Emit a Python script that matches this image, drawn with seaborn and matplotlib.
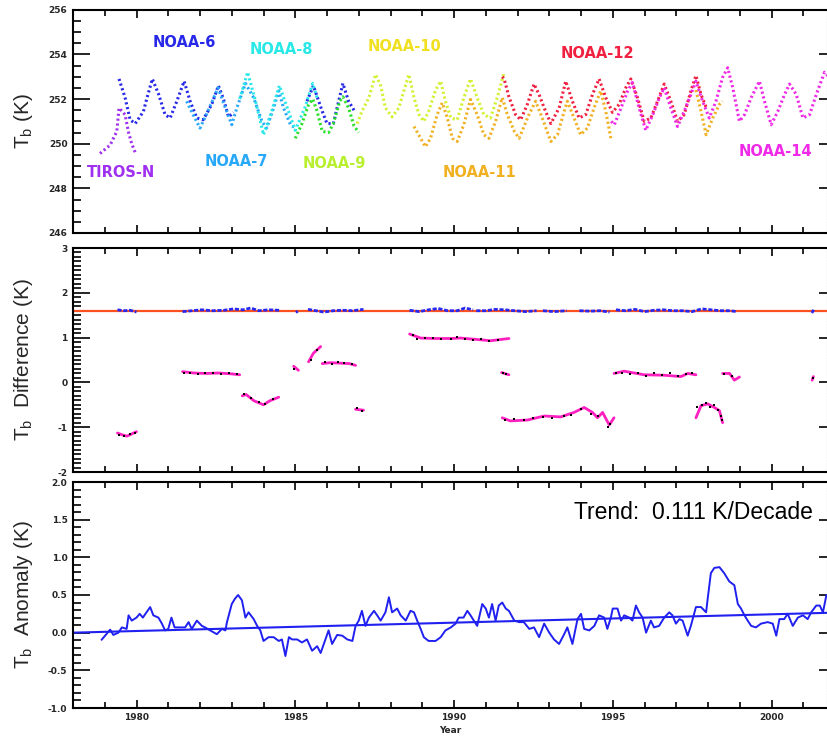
import numpy as np
import pandas as pd
import matplotlib
matplotlib.use("Agg")
import matplotlib.pyplot as plt
import seaborn as sns
from matplotlib.ticker import MultipleLocator

# ---------------- data: top panel (brightness temperature by satellite) ----------------
tiros_t = [1978.85, 1979.17, 1979.38, 1979.45, 1979.64, 1979.75, 1979.85, 1979.96]
tiros_v = [249.56, 249.94, 250.55, 251.6, 251.3, 250.5, 250.0, 249.6]

n6a_t = [1979.45, 1979.64, 1979.8, 1979.96, 1980.22, 1980.32, 1980.5, 1980.7, 1980.9, 1981.06,
         1981.27, 1981.5, 1981.69, 1981.9, 1982.1, 1982.37, 1982.58, 1982.74, 1982.9, 1983.06]
n6a_v = [252.9, 252.06, 251.07, 250.9, 251.45, 252.0, 252.9, 252.2, 251.3, 251.15,
         251.9, 252.8, 251.9, 251.15, 251.07, 251.76, 252.6, 252.0, 251.2, 251.4]
n6b_t = [1985.37, 1985.57, 1985.85, 1986.0, 1986.2, 1986.5, 1986.68, 1986.85]
n6b_v = [251.9, 252.6, 251.45, 250.9, 250.9, 252.7, 251.9, 251.5]

n7_t = [1981.58, 1981.73, 1982.0, 1982.2, 1982.57, 1982.8, 1983.0, 1983.16, 1983.43,
        1983.69, 1983.95, 1984.1, 1984.32, 1984.48, 1984.63, 1984.85, 1985.0]
n7_v = [251.9, 251.45, 250.7, 251.3, 252.5, 251.6, 250.85, 251.6, 252.7,
        252.06, 251.0, 250.7, 251.6, 252.36, 251.6, 250.85, 250.7]

n8_t = [1983.25, 1983.5, 1983.75, 1984.0, 1984.25, 1984.5, 1984.75, 1985.0, 1985.3, 1985.55, 1985.7]
n8_v = [252.0, 253.2, 251.9, 250.4, 251.4, 252.6, 251.6, 250.6, 251.6, 252.7, 252.0]

n9_t = [1985.0, 1985.2, 1985.42, 1985.55, 1985.69, 1985.85, 1986.05, 1986.2, 1986.4, 1986.5,
        1986.68, 1986.85, 1987.0]
n9_v = [250.24, 250.85, 251.76, 252.0, 251.45, 250.55, 250.5, 250.9, 251.9, 252.1,
        251.6, 250.8, 250.5]

n10_t = [1986.95, 1987.1, 1987.32, 1987.53, 1987.69, 1987.84, 1988.05, 1988.26, 1988.42, 1988.58,
         1988.74, 1988.9, 1989.05, 1989.2, 1989.42, 1989.58, 1989.73, 1989.9, 1990.1, 1990.31,
         1990.52, 1990.73, 1990.94, 1991.15, 1991.37, 1991.58]
n10_v = [250.9, 251.45, 252.06, 253.1, 252.6, 251.6, 251.2, 251.6, 252.36, 253.1,
         252.06, 251.3, 251.0, 251.45, 252.4, 252.8, 251.9, 251.15, 251.07, 252.06,
         252.9, 252.06, 251.3, 251.15, 252.1, 253.2]

n11a_t = [1988.74, 1988.95, 1989.1, 1989.26, 1989.47, 1989.63, 1989.79, 1989.95, 1990.1, 1990.31,
          1990.52, 1990.73, 1990.94, 1991.1, 1991.31, 1991.52, 1991.68, 1991.9, 1992.05, 1992.36,
          1992.57, 1992.78, 1993.05, 1993.26, 1993.47, 1993.57, 1993.78, 1993.99, 1994.2, 1994.41,
          1994.62, 1994.78, 1994.94]
n11a_v = [250.77, 250.24, 249.86, 250.24, 251.3, 251.83, 251.15, 250.24, 250.1, 250.85,
          251.98, 251.3, 250.4, 250.24, 251.0, 252.06, 251.3, 250.55, 250.24, 251.3,
          251.9, 251.15, 250.1, 250.4, 251.45, 251.9, 251.15, 250.4, 250.7, 251.6,
          252.36, 251.45, 250.24]
n11b_t = [1997.62, 1997.78, 1997.94, 1998.15, 1998.36, 1998.46]
n11b_v = [252.4, 251.45, 250.4, 251.15, 251.76, 251.9]

n12_t = [1991.52, 1991.58, 1991.73, 1991.94, 1992.1, 1992.31, 1992.52, 1992.68, 1992.84, 1993.05,
         1993.31, 1993.52, 1993.73, 1993.94, 1994.15, 1994.36, 1994.57, 1994.78, 1994.99, 1995.2,
         1995.41, 1995.57, 1995.78, 1995.99, 1996.2, 1996.41, 1996.62, 1996.83, 1997.04, 1997.25,
         1997.46, 1997.62, 1997.78, 1997.95]
n12_v = [253.0, 252.9, 252.1, 251.3, 251.07, 251.76, 252.67, 252.2, 251.6, 250.9,
         251.6, 252.8, 251.9, 251.15, 251.3, 252.2, 252.9, 252.06, 251.4, 251.76,
         252.5, 252.9, 252.06, 251.0, 251.15, 251.9, 252.67, 251.9, 251.0, 251.3,
         252.36, 253.05, 252.2, 251.6]

n14_t = [1994.95, 1995.05, 1995.26, 1995.47, 1995.62, 1995.83, 1996.04, 1996.26, 1996.47, 1996.62,
         1996.83, 1997.04, 1997.25, 1997.46, 1997.62, 1997.83, 1998.04, 1998.25, 1998.46, 1998.62,
         1998.78, 1998.99, 1999.15, 1999.36, 1999.62, 1999.78, 1999.99, 2000.2, 2000.41, 2000.57,
         2000.78, 2000.99, 2001.2, 2001.41, 2001.67, 2001.8]
n14_v = [251.0, 250.85, 251.6, 252.36, 252.74, 251.6, 250.6, 251.3, 252.06, 252.5,
         251.6, 250.77, 251.45, 252.2, 252.8, 251.9, 251.15, 251.9, 252.97, 253.4,
         252.5, 251.0, 251.3, 252.06, 252.8, 251.9, 250.85, 251.45, 252.2, 252.67,
         252.2, 251.15, 251.3, 252.2, 253.2, 253.0]

sat_names = ["TIROS-N", "NOAA-6", "NOAA-7", "NOAA-8", "NOAA-9", "NOAA-10", "NOAA-11", "NOAA-12", "NOAA-14"]
sat_line_colors = ["#a030f0", "#2828e8", "#28a8f8", "#28e8e8", "#28e028", "#d4f030", "#f0b020", "#f02040", "#f028e8"]
sat_label_colors = ["#a030f0", "#2828e8", "#28a8f8", "#28e8e8", "#b8f030", "#f0e020", "#f0b020", "#f02040", "#f028e8"]
sat_label_x = [1979.51, 1981.51, 1983.15, 1984.57, 1986.24, 1988.44, 1990.79, 1994.52, 2000.11]
sat_label_y = [248.73, 254.55, 249.18, 254.2, 249.13, 254.33, 248.73, 254.06, 249.63]

# ---------------- data: middle panel (difference) ----------------
diff_ref = 1.6
blue_segs_t = [[1979.4, 1979.6, 1979.8, 1980.0],
               [1981.45, 1981.75, 1982.05, 1982.4, 1982.75, 1983.05, 1983.35, 1983.6, 1983.85, 1984.15, 1984.5],
               [1985.02, 1985.08],
               [1985.4, 1985.65, 1985.9, 1986.2, 1986.5, 1986.8, 1987.15],
               [1988.6, 1988.9, 1989.2, 1989.5, 1989.8, 1990.1, 1990.35, 1990.6],
               [1990.7, 1991.0, 1991.3, 1991.6, 1991.9, 1992.25, 1992.6],
               [1992.8, 1993.15, 1993.55],
               [1993.95, 1994.3, 1994.6, 1994.9],
               [1995.1, 1995.4, 1995.7, 1996.0, 1996.3, 1996.6, 1996.9, 1997.2, 1997.5, 1997.8, 1998.1, 1998.4, 1998.7, 1998.9],
               [2001.27, 2001.33]]
blue_segs_v = [[1.62, 1.6, 1.61, 1.57],
               [1.58, 1.6, 1.62, 1.6, 1.61, 1.64, 1.62, 1.66, 1.6, 1.62, 1.61],
               [1.56, 1.59],
               [1.63, 1.6, 1.57, 1.6, 1.61, 1.6, 1.63],
               [1.61, 1.58, 1.62, 1.65, 1.6, 1.6, 1.66, 1.62],
               [1.6, 1.6, 1.63, 1.62, 1.6, 1.58, 1.6],
               [1.6, 1.58, 1.6],
               [1.6, 1.59, 1.6, 1.57],
               [1.62, 1.6, 1.63, 1.58, 1.61, 1.62, 1.6, 1.6, 1.58, 1.64, 1.62, 1.6, 1.6, 1.58],
               [1.55, 1.62]]

mag_segs_t = [[1979.4, 1979.55, 1979.7, 1979.85, 1980.0],
              [1981.45, 1981.8, 1982.2, 1982.6, 1983.0, 1983.25],
              [1983.33, 1983.45, 1983.7, 1984.0, 1984.2, 1984.48],
              [1984.95, 1985.1],
              [1985.42, 1985.57, 1985.8],
              [1985.85, 1986.1, 1986.4, 1986.7, 1986.9],
              [1986.9, 1987.15],
              [1988.6, 1988.95, 1989.4, 1989.9, 1990.2, 1990.7, 1991.15, 1991.73],
              [1991.5, 1991.73],
              [1991.52, 1991.78, 1992.31, 1992.84, 1993.36, 1993.78, 1994.1, 1994.36, 1994.52, 1994.68, 1994.89, 1995.04],
              [1995.04, 1995.36, 1995.99, 1996.62, 1997.15, 1997.36, 1997.62],
              [1997.62, 1997.78, 1997.99, 1998.2, 1998.36, 1998.46],
              [1998.46, 1998.68, 1998.83, 1998.99],
              [2001.28, 2001.32]]
mag_segs_v = [[-1.13, -1.17, -1.2, -1.15, -1.1],
              [0.24, 0.21, 0.2, 0.21, 0.19, 0.17],
              [-0.3, -0.27, -0.41, -0.5, -0.41, -0.33],
              [0.36, 0.27],
              [0.46, 0.65, 0.8],
              [0.42, 0.44, 0.43, 0.42, 0.38],
              [-0.6, -0.62],
              [1.08, 0.99, 0.98, 0.98, 0.99, 0.96, 0.93, 0.98],
              [0.22, 0.17],
              [-0.79, -0.86, -0.84, -0.75, -0.77, -0.67, -0.56, -0.67, -0.79, -0.67, -0.95, -0.79],
              [0.2, 0.25, 0.17, 0.16, 0.13, 0.2, 0.17],
              [-0.79, -0.52, -0.48, -0.56, -0.63, -0.9],
              [0.2, 0.2, 0.05, 0.12],
              [0.05, 0.13]]

black_t = [1979.45, 1979.62, 1979.78, 1979.95,
           1981.5, 1981.7, 1981.95, 1982.15, 1982.4, 1982.65, 1982.9, 1983.15,
           1983.4, 1983.6, 1983.85, 1984.05, 1984.3,
           1984.97,
           1985.5, 1985.7,
           1985.95, 1986.15, 1986.35, 1986.55, 1986.8,
           1986.95, 1987.1,
           1988.7, 1988.85, 1989.1, 1989.35, 1989.6, 1989.9, 1990.1, 1990.35, 1990.6, 1990.85, 1991.1, 1991.4,
           1991.55, 1991.65,
           1991.6, 1991.9, 1992.2, 1992.5, 1992.8, 1993.1, 1993.45, 1993.7, 1994.0, 1994.3, 1994.55, 1994.85, 1994.92,
           1995.1, 1995.3, 1995.55, 1995.8, 1996.05, 1996.3, 1996.55, 1996.8, 1997.05, 1997.3, 1997.5,
           1997.65, 1997.8, 1997.95, 1998.05, 1998.2, 1998.3, 1998.4, 1998.45,
           1998.5, 1998.75,
           2001.3]
black_v = [-1.17, -1.2, -1.16, -1.12,
           0.22, 0.2, 0.19, 0.21, 0.2, 0.19, 0.2, 0.18,
           -0.25, -0.35, -0.43, -0.48, -0.38,
           0.3,
           0.5, 0.72,
           0.45, 0.4, 0.46, 0.44, 0.4,
           -0.58, -0.64,
           1.05, 0.97, 0.99, 1.0, 0.96, 0.97, 1.01, 0.97, 0.95, 0.96, 0.93, 0.95,
           0.22, 0.18,
           -0.84, -0.82, -0.85, -0.8, -0.78, -0.8, -0.75, -0.72, -0.6, -0.7, -0.75, -1.0, -0.93,
           0.22, 0.2, 0.18, 0.22, 0.15, 0.2, 0.16, 0.2, 0.14, 0.19, 0.22,
           -0.55, -0.5, -0.45, -0.55, -0.5, -0.62, -0.75, -0.85,
           0.18, 0.15,
           0.1]

# ---------------- data: bottom panel (anomaly) ----------------
anom_years = [1978.9, 1979.17, 1979.27, 1979.43, 1979.54, 1979.69, 1979.75, 1979.85, 1980.0, 1980.1,
              1980.2, 1980.43, 1980.53, 1980.69, 1980.8, 1980.9, 1981.0, 1981.1, 1981.16, 1981.2,
              1981.53, 1981.64, 1981.74, 1981.9, 1982.06, 1982.16, 1982.32, 1982.53, 1982.69, 1982.8,
              1982.85, 1983.0, 1983.1, 1983.2, 1983.32, 1983.43, 1983.53, 1983.69, 1983.8, 1983.9,
              1984.0, 1984.16, 1984.32, 1984.48, 1984.58, 1984.69, 1984.8, 1984.9, 1985.06, 1985.21,
              1985.37, 1985.53, 1985.69, 1985.8, 1985.9, 1986.05, 1986.16, 1986.32, 1986.48, 1986.64,
              1986.8, 1986.9, 1987.0, 1987.1, 1987.21, 1987.32, 1987.48, 1987.58, 1987.69, 1987.84,
              1987.95, 1988.05, 1988.21, 1988.32, 1988.48, 1988.63, 1988.74, 1988.84, 1988.95, 1989.05,
              1989.2, 1989.42, 1989.58, 1989.73, 1989.9, 1990.05, 1990.15, 1990.3, 1990.42, 1990.52,
              1990.73, 1990.89, 1991.0, 1991.1, 1991.2, 1991.31, 1991.41, 1991.52, 1991.63, 1991.73,
              1991.9, 1992.05, 1992.2, 1992.37, 1992.52, 1992.68, 1992.84, 1993.0, 1993.15, 1993.31,
              1993.47, 1993.57, 1993.73, 1993.89, 1994.0, 1994.1, 1994.26, 1994.42, 1994.57, 1994.73,
              1994.83, 1994.94, 1995.0, 1995.15, 1995.26, 1995.36, 1995.52, 1995.62, 1995.73, 1995.83,
              1995.94, 1996.05, 1996.2, 1996.3, 1996.46, 1996.62, 1996.78, 1996.88, 1996.99, 1997.1,
              1997.2, 1997.36, 1997.46, 1997.62, 1997.78, 1997.94, 1997.99, 1998.09, 1998.2, 1998.36,
              1998.51, 1998.67, 1998.83, 1998.94, 1999.04, 1999.15, 1999.25, 1999.36, 1999.51, 1999.67,
              1999.88, 2000.04, 2000.15, 2000.25, 2000.4, 2000.51, 2000.67, 2000.83, 2000.99, 2001.14,
              2001.25, 2001.41, 2001.52, 2001.62, 2001.73]
anom_values = [-0.095, 0.04, -0.03, 0.0, 0.07, 0.05, 0.23, 0.16, 0.2, 0.25,
               0.2, 0.34, 0.23, 0.2, 0.12, 0.03, 0.05, 0.2, 0.12, 0.07,
               0.07, 0.14, 0.05, 0.16, 0.09, 0.07, 0.03, -0.02, 0.05, 0.03,
               0.14, 0.38, 0.45, 0.5, 0.43, 0.2, 0.27, 0.18, 0.09, 0.03,
               -0.11, -0.06, -0.06, -0.11, -0.09, -0.31, -0.06, -0.09, -0.09, -0.13,
               -0.09, -0.24, -0.18, -0.27, -0.15, 0.03, -0.15, -0.03, -0.04, -0.09,
               -0.11, 0.09, 0.16, 0.29, 0.09, 0.2, 0.29, 0.23, 0.16, 0.27,
               0.47, 0.27, 0.32, 0.23, 0.16, 0.29, 0.27, 0.16, 0.05, -0.06,
               -0.11, -0.11, -0.06, 0.03, 0.07, 0.12, 0.2, 0.2, 0.29, 0.23,
               0.09, 0.38, 0.32, 0.2, 0.38, 0.16, 0.36, 0.4, 0.32, 0.29,
               0.16, 0.14, 0.14, 0.05, 0.07, -0.06, 0.12, 0.0, -0.09, -0.15,
               -0.02, 0.07, -0.15, 0.18, 0.25, 0.05, 0.03, 0.09, 0.23, 0.2,
               0.05, 0.2, 0.32, 0.32, 0.16, 0.23, 0.2, 0.16, 0.36, 0.27,
               0.2, 0.0, 0.16, 0.07, 0.09, 0.2, 0.27, 0.23, 0.12, 0.18,
               0.16, -0.04, 0.09, 0.34, 0.34, 0.27, 0.45, 0.79, 0.86, 0.87,
               0.79, 0.68, 0.63, 0.38, 0.32, 0.23, 0.16, 0.09, 0.07, 0.12,
               0.14, 0.12, -0.04, 0.18, 0.18, 0.25, 0.09, 0.2, 0.23, 0.18,
               0.27, 0.36, 0.36, 0.27, 0.5]
trend_years = [1978.0, 2002.0]
trend_values = [0.0, 0.266]
trend_text = "Trend:  0.111 K/Decade"

# tick labels
top_yticks = [246, 248, 250, 252, 254, 256]
top_yticklabels = ["246", "248", "250", "252", "254", "256"]
mid_yticks = [-2, -1, 0, 1, 2, 3]
mid_yticklabels = ["-2", "-1", "0", "1", "2", "3"]
bot_yticks = [-1.0, -0.5, 0.0, 0.5, 1.0, 1.5, 2.0]
bot_yticklabels = ["-1.0", "-0.5", "0.0", "0.5", "1.0", "1.5", "2.0"]
xticks = [1980, 1985, 1990, 1995, 2000]
xticklabels = ["1980", "1985", "1990", "1995", "2000"]

# ---------------- build frames ----------------
top_series = [("TIROS-N", tiros_t, tiros_v), ("NOAA-6", n6a_t, n6a_v), ("NOAA-6", n6b_t, n6b_v),
              ("NOAA-7", n7_t, n7_v), ("NOAA-8", n8_t, n8_v), ("NOAA-9", n9_t, n9_v),
              ("NOAA-10", n10_t, n10_v), ("NOAA-11", n11a_t, n11a_v), ("NOAA-11", n11b_t, n11b_v),
              ("NOAA-12", n12_t, n12_v), ("NOAA-14", n14_t, n14_v)]
rows = []
for k, (name, t, v) in enumerate(top_series):
    for a, b in zip(t, v):
        rows.append((name, k, a, b))
df_top = pd.DataFrame(rows, columns=["sat", "seg", "year", "tb"])


def seg_frame(ts, vs):
    r = []
    for k, (t, v) in enumerate(zip(ts, vs)):
        for a, b in zip(t, v):
            r.append((k, a, b))
    return pd.DataFrame(r, columns=["seg", "year", "val"])


df_blue = seg_frame(blue_segs_t, blue_segs_v)
df_mag = seg_frame(mag_segs_t, mag_segs_v)
df_black = pd.DataFrame({"year": black_t, "val": black_v})
df_anom = pd.DataFrame({"year": anom_years, "val": anom_values})
df_trend = pd.DataFrame({"year": trend_years, "val": trend_values})

# ---------------- style ----------------
sns.set_theme(style="ticks")
plt.rcParams["font.family"] = ["Liberation Sans", "DejaVu Sans"]
plt.rcParams["axes.unicode_minus"] = False
plt.rcParams["mathtext.fontset"] = "custom"
plt.rcParams["mathtext.rm"] = "Liberation Sans"
plt.rcParams["mathtext.it"] = "Liberation Sans:italic"

W, H = 828, 740
fig = plt.figure(figsize=(W / 100, H / 100), dpi=100)
left = 73 / W
right_px = 827
width = (right_px - 73) / W
XMIN, XMAX = 1978.0, 1978.0 + (right_px - 73) / 31.75


def axes_px(top, bottom):
    return fig.add_axes([left, 1 - bottom / H, width, (bottom - top) / H])


ax1 = axes_px(9.7, 233)
ax2 = axes_px(248, 472)
ax3 = axes_px(482, 708)

tick_font = dict(fontsize=6.5, fontweight="bold", family="DejaVu Sans")

for ax in (ax1, ax2, ax3):
    ax.set_xlim(XMIN, XMAX)
    ax.xaxis.set_major_locator(MultipleLocator(5))
    ax.xaxis.set_minor_locator(MultipleLocator(1))
    for s in ax.spines.values():
        s.set_linewidth(1.5)
        s.set_color("black")
    ax.spines["right"].set_color("#b0b0b0")
    ax.spines["right"].set_linewidth(0.8)
    ax.spines["right"].set_linestyle((0, (1, 1.5)))
    ax.tick_params(which="both", direction="in", top=True, right=False, width=1.2, color="black")
    ax.tick_params(axis="y", which="major", length=12, pad=4)
    ax.tick_params(axis="y", which="minor", length=6)
    ax.tick_params(axis="x", which="major", length=5.5)
    ax.tick_params(axis="x", which="minor", length=4)
    ax.set_facecolor("white")

# top panel
sat_palette = dict(zip(sat_names, sat_line_colors))
sns.lineplot(data=df_top, x="year", y="tb", hue="sat", units="seg", estimator=None, sort=False,
             palette=sat_palette, lw=2.2, ls=(0, (0.7, 0.9)), legend=False, ax=ax1)
for name, c, x, y in zip(sat_names, sat_label_colors, sat_label_x, sat_label_y):
    ax1.text(x, y, name, color=c, fontsize=10.5, fontweight="bold", ha="center", va="center",
             family="DejaVu Sans")
ax1.set_ylim(246, 256)
ax1.set_yticks(top_yticks)
ax1.set_yticklabels(top_yticklabels, **tick_font)
ax1.yaxis.set_minor_locator(MultipleLocator(0.5))
ax1.set_xticklabels([])
ax1.set_xlabel("")
ax1.set_ylabel(r"T$_\mathrm{b}$ (K)", fontsize=15)

# middle panel
ax2.axhline(diff_ref, color="#ff5020", lw=1.6, zorder=1)
sns.lineplot(data=df_blue, x="year", y="val", units="seg", estimator=None, sort=False,
             color="#2828f0", lw=2.0, ls=(0, (1.5, 0.6)), legend=False, ax=ax2)
sns.lineplot(data=df_mag, x="year", y="val", units="seg", estimator=None, sort=False,
             color="#ff20c0", lw=2.0, legend=False, ax=ax2)
sns.scatterplot(data=df_black, x="year", y="val", color="black", marker="s", s=4,
                linewidth=0, legend=False, ax=ax2, zorder=3)
ax2.set_ylim(-2, 3)
ax2.set_yticks(mid_yticks)
ax2.set_yticklabels(mid_yticklabels, **tick_font)
ax2.yaxis.set_minor_locator(MultipleLocator(0.1))
ax2.set_xticklabels([])
ax2.set_xlabel("")
ax2.set_ylabel(r"T$_\mathrm{b}$  Difference (K)", fontsize=15)

# bottom panel
sns.lineplot(data=df_trend, x="year", y="val", estimator=None, sort=False,
             color="#2020f0", lw=1.5, legend=False, ax=ax3)
sns.lineplot(data=df_anom, x="year", y="val", estimator=None, sort=False,
             color="#2020f0", lw=1.4, legend=False, ax=ax3)
ax3.text(2001.3, 1.6, trend_text, ha="right", va="center", fontsize=16.5, color="black")
ax3.set_ylim(-1.0, 2.0)
ax3.set_yticks(bot_yticks)
ax3.set_yticklabels(bot_yticklabels, **tick_font)
ax3.yaxis.set_minor_locator(MultipleLocator(0.1))
ax3.set_xticks(xticks)
ax3.set_xticklabels(xticklabels, **tick_font)
ax3.set_xlabel("Year", fontsize=6.5, fontweight="bold", family="DejaVu Sans", labelpad=3)
ax3.set_ylabel(r"T$_\mathrm{b}$  Anomaly (K)", fontsize=15)

# right-hand major ticks only (inward), as in the reference
for ax, ticks in ((ax1, top_yticks), (ax2, mid_yticks), (ax3, bot_yticks)):
    sec = ax.secondary_yaxis("right")
    sec.set_yticks(ticks)
    sec.tick_params(direction="in", length=6, width=1.2, labelright=False, color="black")
    sec.spines["right"].set_visible(False)

for ax in (ax1, ax2, ax3):
    ax.set_xlim(XMIN, XMAX)
    ax.yaxis.set_label_coords(-0.05, 0.5)

fig.savefig("out.png", dpi=100, facecolor="white")
